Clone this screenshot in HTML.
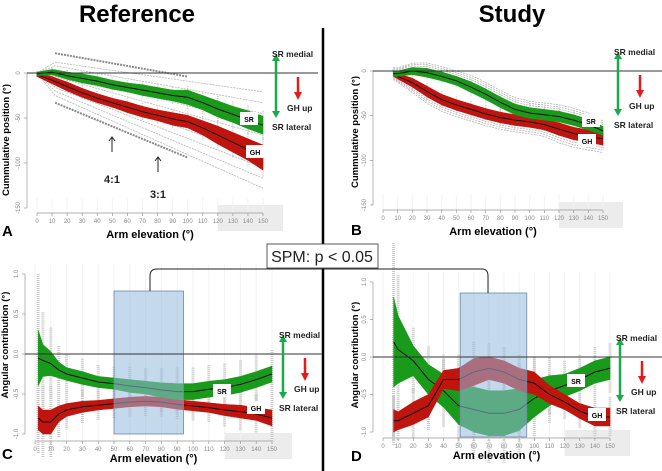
<!DOCTYPE html>
<html><head><meta charset="utf-8"><style>
body{margin:0;background:#fff;}
svg{display:block;font-family:"Liberation Sans",sans-serif;}
</style></head><body>
<svg id="fig" width="662" height="471" viewBox="0 0 662 471" xmlns="http://www.w3.org/2000/svg">
<text x="137" y="22" font-size="24" font-weight="bold" text-anchor="middle">Reference</text>
<text x="512" y="22" font-size="24" font-weight="bold" text-anchor="middle">Study</text>
<line x1="323" y1="28" x2="323" y2="471" stroke="#000" stroke-width="2.5"/>
<g id="layer"></g>
<g fill="#222" stroke="#222">
<line x1="112" y1="152" x2="112" y2="137" stroke-width="1"/><polyline points="109,141 112,137 115,141" fill="none" stroke-width="1"/>
<text x="112" y="183" font-size="11" font-weight="bold" text-anchor="middle" stroke="none">4:1</text>
<line x1="158" y1="172" x2="158" y2="157" stroke-width="1"/><polyline points="155,161 158,157 161,161" fill="none" stroke-width="1"/>
<text x="158" y="198" font-size="11" font-weight="bold" text-anchor="middle" stroke="none">3:1</text>
</g>
<path d="M150,291 V276 Q150,269 157,269 H482 Q488,269 488,276 V293" fill="none" stroke="#222" stroke-width="1"/>
<rect x="267" y="244" width="111" height="24" fill="#fff" stroke="#333" stroke-width="0.8"/>
<text x="322" y="262" font-size="16" text-anchor="middle" fill="#222">SPM: p &lt; 0.05</text>
</svg>
<script>
// Panel A data (cumulative position, deg)
const elevA = [0,10,20,30,40,50,60,70,80,90,100,110,120,130,140,150];
const srA = [-1,1,-3,-6,-9,-13,-16,-19,-22,-25,-27,-33,-40,-46,-52,-58];
const ghA = [-2,-8,-15,-22,-28,-33,-38,-43,-47,-51,-54,-61,-69,-77,-85,-94];
const srSdA = [2,3,4,5,5,5,5,6,6,6,8,8,9,9,10,10];
const ghSdA = [2,4,5,5,5,5,6,6,6,7,7,8,10,11,12,14];
// ratio fan lines: value at 12° and at 150°
const fanStartA = [12,8,4,0,-4,-8,-12,-16,-20,-25];
const fanEndA = [-21,-33,-45,-57,-69,-81,-93,-105,-117,-128];
// outer thick lines: value at 12° and at 100°
const outerStartA = [22,-33];
const outerEndA = [-4,-94];
// Panel B data
const elevB = [7,10,20,30,40,50,60,70,80,90,100,110,120,130,140,150];
const srB = [-3,-3,0,-2,-6,-11,-18,-26,-35,-43,-47,-49,-51,-55,-60,-67];
const ghB = [-3,-6,-13,-23,-32,-38,-43,-48,-52,-55,-57,-60,-65,-70,-73,-76];
const srSdB = [3,3,4,5,5,5,6,6,6,6,6,6,6,6,6,5];
const ghSdB = [3,3,5,6,6,6,6,6,6,6,6,6,7,7,7,7];
// Panel C data (angular contribution)
const elevC = [2,5,10,15,20,30,40,50,60,70,80,90,100,110,120,130,140,150];
const srC = [-0.05,-0.08,-0.12,-0.2,-0.25,-0.3,-0.35,-0.37,-0.4,-0.42,-0.45,-0.47,-0.47,-0.44,-0.42,-0.38,-0.32,-0.25];
const ghC = [-0.8,-0.85,-0.85,-0.75,-0.7,-0.66,-0.64,-0.62,-0.6,-0.59,-0.6,-0.63,-0.65,-0.67,-0.7,-0.72,-0.75,-0.8];
const srSdC = [0.35,0.2,0.15,0.1,0.08,0.08,0.07,0.07,0.08,0.08,0.09,0.1,0.1,0.1,0.1,0.1,0.1,0.1];
const ghSdC = [0.15,0.15,0.15,0.1,0.08,0.07,0.06,0.06,0.06,0.06,0.06,0.06,0.06,0.06,0.07,0.08,0.08,0.1];
// Panel D data
const elevD = [7,10,20,30,40,50,60,70,80,90,100,110,120,130,140,150];
const srD = [0.2,0.1,-0.05,-0.3,-0.45,-0.65,-0.7,-0.75,-0.75,-0.7,-0.55,-0.45,-0.38,-0.3,-0.2,-0.15];
const ghD = [-0.85,-0.85,-0.75,-0.65,-0.3,-0.3,-0.2,-0.15,-0.2,-0.3,-0.35,-0.5,-0.6,-0.72,-0.8,-0.8];
const srSdD = [0.6,0.45,0.2,0.2,0.22,0.25,0.3,0.3,0.3,0.28,0.25,0.2,0.15,0.15,0.15,0.15];
const ghSdD = [0.15,0.12,0.15,0.15,0.12,0.15,0.18,0.15,0.15,0.15,0.15,0.12,0.1,0.1,0.12,0.12];
const xTicks = [0,10,20,30,40,50,60,70,80,90,100,110,120,130,140,150];

const NS = "http://www.w3.org/2000/svg";
const layer = document.getElementById('layer');
function mk(tag, attrs, parent){const e=document.createElementNS(NS,tag);for(const k in attrs)e.setAttribute(k,attrs[k]);(parent||layer).appendChild(e);return e;}

function panel(cfg){
  const g = mk('g',{});
  
  
  const sx = v => cfg.x0 + v*(cfg.x1-cfg.x0)/150;
  const sy = v => cfg.y0 + (v-cfg.v0)*(cfg.yTop-cfg.y0)/(cfg.vTop-cfg.v0);
  const gb = mk('rect',{x:sx(120),y:cfg.axY-12,width:sx(150)-sx(120)+20,height:26,fill:'#ececec'},g);
  
  
  xTicks.forEach(t=>mk('line',{x1:sx(t),x2:sx(t),y1:cfg.yTop-10,y2:cfg.axY-4,stroke:'#f2f2f2','stroke-width':1},g));
  mk('line',{x1:cfg.x0-10,x2:cfg.x0-10,y1:sy(cfg.yTicks[0]),y2:sy(cfg.yTicks[cfg.yTicks.length-1]),stroke:'#999','stroke-width':0.7},g);
  cfg.yTicks.forEach((t,i)=>{
    const y=sy(t);
    mk('line',{x1:cfg.x0-13,x2:cfg.x0-10,y1:y,y2:y,stroke:'#999','stroke-width':0.7},g);
    const tx=mk('text',{x:cfg.x0-17,y:y,'font-size':6,fill:'#888','text-anchor':'middle',transform:`rotate(-90 ${cfg.x0-17} ${y})`},g);
    tx.textContent=cfg.yLabels[i];
    
    
  });
  mk('line',{x1:sx(0),x2:sx(150),y1:cfg.axY-4,y2:cfg.axY-4,stroke:'#999','stroke-width':0.7},g);
  xTicks.forEach(t=>{
    mk('line',{x1:sx(t),x2:sx(t),y1:cfg.axY-4,y2:cfg.axY-1,stroke:'#999','stroke-width':0.7},g);
    const tx=mk('text',{x:sx(t),y:cfg.axY+6,'font-size':6,fill:'#888','text-anchor':'middle'},g);
    tx.textContent=t;
    
    
  });
  if(cfg.fan){
    cfg.fan[0].forEach((s,i)=>{
      const p=mk('polyline',{points:`${sx(0)},${sy(0)} ${sx(12)},${sy(s)} ${sx(150)},${sy(cfg.fan[1][i])}`,fill:'none',stroke:'#b5b5b5','stroke-width':0.8,'stroke-dasharray':'2,1'},g);
      
      
    });
    cfg.outer[0].forEach((s,i)=>{
      const p=mk('polyline',{points:`${sx(12)},${sy(s)} ${sx(100)},${sy(cfg.outer[1][i])}`,fill:'none',stroke:'#8a8a8a','stroke-width':2,'stroke-dasharray':'2,1'},g);
      
      
    });
  }
  if(cfg.env){
    [[cfg.sr,cfg.srSd,1],[cfg.gh,cfg.ghSd,-1]].forEach(([m,sd,s])=>{
      [1.4,1.8,2.2].forEach(k=>{
        const p=mk('polyline',{points:cfg.elev.map((e,i)=>`${sx(e)},${sy(m[i]+s*sd[i]*k)}`).join(' '),fill:'none',stroke:'#aaa','stroke-width':0.7,'stroke-dasharray':'2,1'},g);
        
        
      });
    });
  }
  const series=[[cfg.sr,cfg.srSd],[cfg.gh,cfg.ghSd]];
  series.forEach(([m,sd])=>{
    for(let i=0;i<cfg.elev.length;i++){
      mk('line',{x1:sx(cfg.elev[i]),x2:sx(cfg.elev[i]),y1:sy(m[i]+sd[i]*cfg.wk),y2:sy(m[i]-sd[i]*cfg.wk),stroke:'#c8c8c8','stroke-width':cfg.wkw,'stroke-dasharray':'1,1'},g);
    }
  });
  const band=(m,sd,col,name)=>{
    const up=cfg.elev.map((e,i)=>`${sx(e)},${sy(m[i]+sd[i])}`);
    const dn=cfg.elev.map((e,i)=>`${sx(e)},${sy(m[i]-sd[i])}`).reverse();
    const p=mk('polygon',{points:up.concat(dn).join(' '),fill:col,stroke:col,'stroke-width':0.5},g);
    
    
    const l=mk('polyline',{points:cfg.elev.map((e,i)=>`${sx(e)},${sy(m[i])}`).join(' '),fill:'none',stroke:'#111','stroke-width':1},g);
    
    
  };
  if(cfg.ghTop){
    band(cfg.sr,cfg.srSd,'#1a9a1a','sr');
    band(cfg.gh,cfg.ghSd,'#c0140f','gh');
  } else {
    band(cfg.gh,cfg.ghSd,'#c0140f','gh');
    band(cfg.sr,cfg.srSd,'#1a9a1a','sr');
  }
  if(cfg.blue){
    const b=mk('rect',{x:sx(cfg.blue[0]),y:cfg.blue[2],width:sx(cfg.blue[1])-sx(cfg.blue[0]),height:cfg.blue[3]-cfg.blue[2],fill:'rgba(150,185,220,0.55)',stroke:'#6d8aa8','stroke-width':0.8},g);
    
    
  }
  const z=mk('line',{x1:cfg.x0-10,x2:cfg.zx2,y1:sy(0),y2:sy(0),stroke:'#333','stroke-width':1},g);
  
  
  [['SR',cfg.srLab],['GH',cfg.ghLab]].forEach(([t,p])=>{
    mk('rect',{x:p[0]-9,y:p[1]-7,width:18,height:13,fill:'#fff'},g);
    const tx=mk('text',{x:p[0],y:p[1]+3,'font-size':7,'font-weight':'bold','text-anchor':'middle'},g);
    tx.textContent=t;
    
    
  });
  const yt=mk('text',{x:cfg.ytx,y:cfg.yTitleY,'font-size':9.5,'font-weight':'bold','text-anchor':'middle',transform:`rotate(-90 ${cfg.ytx} ${cfg.yTitleY})`},g);
  yt.textContent=cfg.yTitle;
  
  
  const xt=mk('text',{x:sx(75),y:cfg.axY+cfg.xtOff,'font-size':11,'font-weight':'bold','text-anchor':'middle'},g);
  xt.textContent='Arm elevation (°)';
  
  
  const lt=mk('text',{x:cfg.letter[0],y:cfg.letter[1],'font-size':15,'font-weight':'bold'},g);
  lt.textContent=cfg.letterT;
  
  
  const ax=cfg.arrX, ay=sy(0);
  mk('line',{x1:ax,x2:ax,y1:ay-14,y2:ay+40,stroke:'#1aaa4a','stroke-width':2.5},g);
  mk('polygon',{points:`${ax-4},${ay-12} ${ax+4},${ay-12} ${ax},${ay-19}`,fill:'#1aaa4a'},g);
  mk('polygon',{points:`${ax-4},${ay+38} ${ax+4},${ay+38} ${ax},${ay+45}`,fill:'#1aaa4a'},g);
  mk('line',{x1:ax+22,x2:ax+22,y1:ay+4,y2:ay+20,stroke:'#e21b1b','stroke-width':2.5},g);
  mk('polygon',{points:`${ax+18},${ay+19} ${ax+26},${ay+19} ${ax+22},${ay+27}`,fill:'#e21b1b'},g);
  [['SR medial',ax-4,ay-16],['GH up',ax+11,ay+38],['SR lateral',ax-4,ay+57]].forEach(([t,x,y])=>{
    const tx=mk('text',{x:x,y:y,'font-size':8.5,'font-weight':'bold',fill:'#222'},g);
    tx.textContent=t;
    
    
  });
}

panel({name:'panel-a',x0:37,x1:263,y0:73,v0:0,yTop:208,vTop:-150,axY:217,xtOff:21,yTicks:[0,-50,-100,-150],yLabels:['0','-50','-100','-150'],
  elev:elevA,sr:srA,gh:ghA,srSd:srSdA,ghSd:ghSdA,fan:[fanStartA,fanEndA],outer:[outerStartA,outerEndA],wk:1.6,wkw:1.5,zx2:318,srLab:[249,119],ghLab:[255,152],
  ytx:9,yTitleY:140,yTitle:'Cummulative position (°)',letter:[2,236],letterT:'A',arrX:276});
panel({name:'panel-b',x0:383,x1:603,y0:71,v0:0,yTop:205,vTop:-150,axY:214,xtOff:21,yTicks:[0,-50,-100,-150],yLabels:['0','-50','-100','-150'],
  elev:elevB,sr:srB,gh:ghB,srSd:srSdB,ghSd:ghSdB,env:true,wk:1.6,wkw:1.5,zx2:662,srLab:[591,121],ghLab:[587,141],
  ytx:358,yTitleY:132,yTitle:'Cummulative position (°)',letter:[351,235],letterT:'B',arrX:618});
panel({name:'panel-c',x0:35,x1:272,y0:354,v0:0,yTop:274,vTop:1,axY:445,xtOff:17,yTicks:[1,0.5,0,-0.5,-1],yLabels:['1.0','0.5','0.0','-0.5','-1.0'],
  elev:elevC,sr:srC,gh:ghC,srSd:srSdC,ghSd:ghSdC,wk:3,wkw:3,zx2:322,srLab:[222,391],ghLab:[256,408],blue:[50,94,291,434],
  ytx:8,yTitleY:345,yTitle:'Angular contribution (°)',letter:[2,459],letterT:'C',arrX:283});
panel({name:'panel-d',x0:383,x1:610,y0:357,v0:0,yTop:282,vTop:1,axY:442,xtOff:17,yTicks:[1,0.5,0,-0.5,-1],yLabels:['1.0','0.5','0.0','-0.5','-1.0'],
  elev:elevD,sr:srD,gh:ghD,srSd:srSdD,ghSd:ghSdD,ghTop:true,wk:2.2,wkw:3,zx2:662,srLab:[576,381],ghLab:[597,415],blue:[51,95,293,437],
  ytx:358,yTitleY:355,yTitle:'Angular contribution (°)',letter:[351,461],letterT:'D',arrX:620});
</script>
</body></html>
